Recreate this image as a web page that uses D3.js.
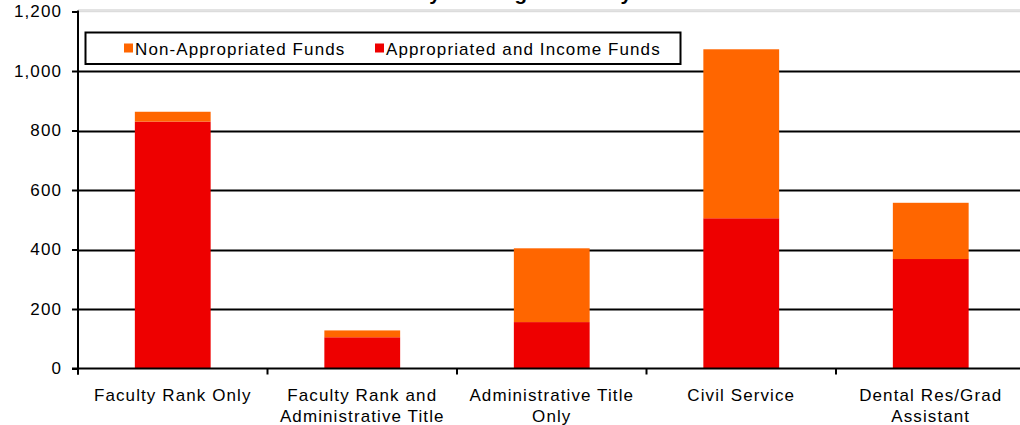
<!DOCTYPE html>
<html>
<head>
<meta charset="utf-8">
<script src="https://cdn.jsdelivr.net/npm/d3@7/dist/d3.min.js"></script>
<style>
  html, body { margin: 0; padding: 0; background: #fff; }
  svg { display: block; font-family: "Liberation Sans", Arial, sans-serif; }
  .lbl { font-size: 17px; letter-spacing: 1.1px; fill: #000; }
</style>
</head>
<body>
<svg id="chart" width="1020" height="425"></svg>
<script>
// Headcount by classification, split by salary funding source
const categories = [
  ["Faculty Rank Only"],
  ["Faculty Rank and", "Administrative Title"],
  ["Administrative Title", "Only"],
  ["Civil Service"],
  ["Dental Res/Grad", "Assistant"]
];
const appropriated = [830, 105, 156, 505, 368];
const nonAppropriated = [33, 23, 248, 568, 189];
const yTicks = [0, 200, 400, 600, 800, 1000, 1200];
const seriesNames = ["Non-Appropriated Funds", "Appropriated and Income Funds"];
const seriesColors = ["#FF6600", "#EE0000"];
const title = "Salary Funding Source by Classification";

const svg = d3.select("#chart");
const left = 78, step = 189.5;
const right = left + step * categories.length;

const x = d3.scaleBand()
  .domain(d3.range(categories.length))
  .range([left, right])
  .paddingInner(0.6)
  .paddingOuter(0.3);

const y = d3.scaleLinear().domain([0, 1200]).range([368.5, 11.5]);

// Title (sits at the very top edge)
svg.append("text")
  .attr("x", 575).attr("y", 0.3)
  .attr("text-anchor", "middle")
  .style("font-size", "20.5px").style("font-weight", "bold")
  .text(title);

// Gridlines
const gridVals = yTicks.filter(v => v > 0 && v < 1200);
svg.append("g").selectAll("line").data(gridVals).join("line")
  .attr("x1", left).attr("x2", 1020)
  .attr("y1", d => Math.round(y(d)) + 0.5).attr("y2", d => Math.round(y(d)) + 0.5)
  .attr("stroke", "#000").attr("stroke-width", 2);

// Top border at the maximum value
svg.append("line")
  .attr("x1", left).attr("x2", 1020)
  .attr("y1", y(1200) - 1.5).attr("y2", y(1200) - 1.5)
  .attr("stroke", "#c6c6c6").attr("stroke-width", 1);
svg.append("line")
  .attr("x1", left).attr("x2", 1020)
  .attr("y1", y(1200) + 0.2).attr("y2", y(1200) + 0.2)
  .attr("stroke", "#d4d4d4").attr("stroke-width", 1);

// Stacked bars
const stackData = categories.map((c, i) => ({ i, a: appropriated[i], n: nonAppropriated[i] }));
const stack = d3.stack().keys(["a", "n"])(stackData);
const colorFor = { a: seriesColors[1], n: seriesColors[0] };

svg.append("g").selectAll("g").data(stack).join("g")
  .attr("fill", d => colorFor[d.key])
  .selectAll("rect").data(d => d).join("rect")
  .attr("x", d => x(d.data.i))
  .attr("width", x.bandwidth())
  .attr("y", d => y(d[1]))
  .attr("height", d => y(d[0]) - y(d[1]));

// Y axis
const yAxis = d3.axisLeft(y).tickValues(yTicks).tickSize(6).tickPadding(10)
  .tickFormat(d3.format(","));
const gy = svg.append("g").attr("transform", `translate(${left},0)`).call(yAxis);
gy.select(".domain").remove();
gy.selectAll(".tick line").attr("stroke", "#000").attr("stroke-width", 2);
gy.selectAll(".tick text").attr("class", "lbl").attr("font-family", null).attr("font-size", null);
svg.append("line")
  .attr("x1", left).attr("x2", left)
  .attr("y1", y(1200) - 1).attr("y2", y(0) + 6)
  .attr("stroke", "#000").attr("stroke-width", 2);

// X axis line and category boundary ticks
svg.append("line")
  .attr("x1", left - 6).attr("x2", 1020)
  .attr("y1", y(0)).attr("y2", y(0))
  .attr("stroke", "#000").attr("stroke-width", 2);
const bounds = d3.range(categories.length + 1).map(k => left + k * x.step());
svg.append("g").selectAll("line").data(bounds).join("line")
  .attr("x1", d => d).attr("x2", d => d)
  .attr("y1", y(0)).attr("y2", y(0) + 6)
  .attr("stroke", "#000").attr("stroke-width", 2);

// Category labels
const xl = svg.append("g").selectAll("text").data(categories).join("text")
  .attr("class", "lbl")
  .attr("text-anchor", "middle")
  .attr("x", (d, i) => x(i) + x.bandwidth() / 2)
  .attr("y", 400.5);
xl.selectAll("tspan").data(d => d).join("tspan")
  .attr("x", function () { return this.parentNode.getAttribute("x"); })
  .attr("dy", (d, j) => j === 0 ? 0 : 21.5)
  .text(d => d);

// Legend
const lg = svg.append("g");
lg.append("rect")
  .attr("x", 85.5).attr("y", 32.5).attr("width", 595).attr("height", 31.5)
  .attr("fill", "#fff").attr("stroke", "#000").attr("stroke-width", 2);
const legendX = [124, 375];
seriesNames.forEach((name, k) => {
  lg.append("rect")
    .attr("x", legendX[k]).attr("y", 43.5).attr("width", 9).attr("height", 9)
    .attr("fill", seriesColors[k]);
  lg.append("text")
    .attr("class", "lbl")
    .attr("x", legendX[k] + 11).attr("y", 54.5)
    .text(name);
});
</script>
</body>
</html>
